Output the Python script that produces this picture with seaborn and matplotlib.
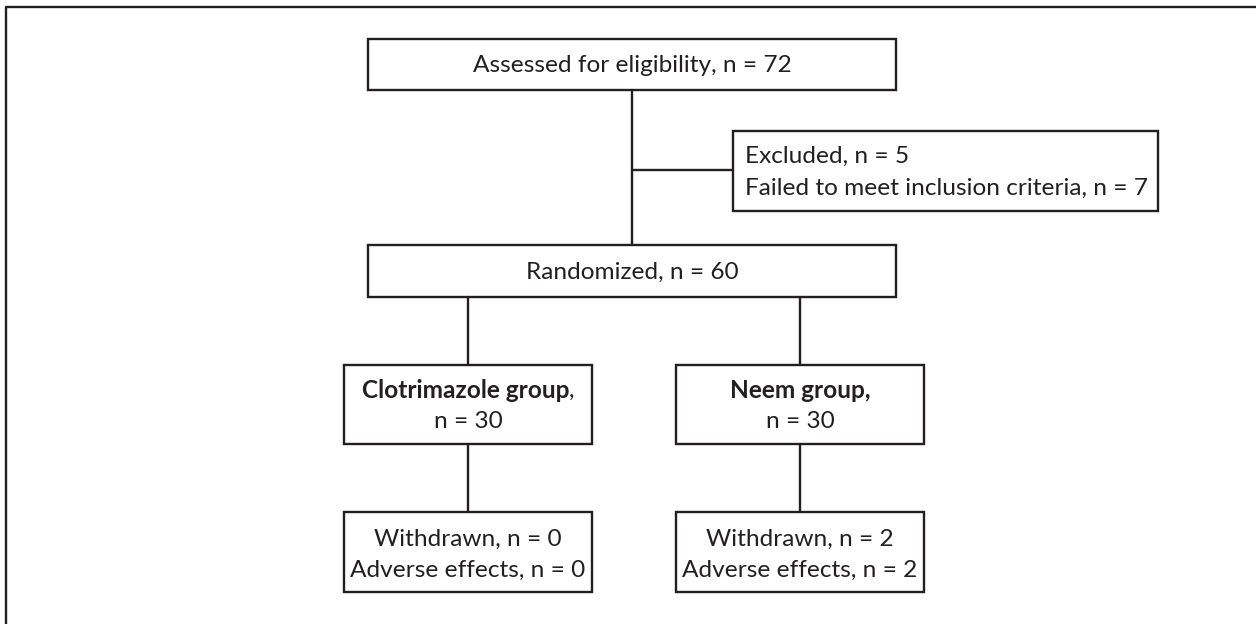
import matplotlib
matplotlib.use("Agg")
import matplotlib.pyplot as plt
import seaborn as sns
from matplotlib.patches import Rectangle

# Тексты блоков схемы
assessed_text = ["Assessed for eligibility, n = 72"]
excluded_text = ["Excluded, n = 5", "Failed to meet inclusion criteria, n = 7"]
randomized_text = ["Randomized, n = 60"]
group_names = ["Clotrimazole group", "Neem group,"]
group_name_tail = [",", ""]
group_n = ["n = 30", "n = 30"]
withdrawn_n = [0, 2]
adverse_n = [0, 2]

INK = "#231f20"
W, H = 1256, 624

sns.set_theme(style="white")
plt.rcParams["font.family"] = ["Lato", "DejaVu Sans"]

fig = plt.figure(figsize=(W / 100, H / 100), dpi=100)
ax = fig.add_axes([0, 0, 1, 1])
ax.set_xlim(0, W)
ax.set_ylim(H, 0)
ax.axis("off")

FS = 17.6
LW = 1.7


def box(x0, y0, x1, y1):
    ax.add_patch(Rectangle((x0, y0), x1 - x0, y1 - y0, fill=False,
                           edgecolor=INK, linewidth=LW, zorder=2))


def line(xs, ys):
    sns.lineplot(x=xs, y=ys, ax=ax, color=INK, linewidth=LW,
                 sort=False, estimator=None, zorder=1)


# Рамка (только верх и левая сторона)
line([6, 6, W], [H, 7, 7])

# Assessed
box(368, 39, 896, 90)
ax.text(632, 65, assessed_text[0], ha="center", va="center", fontsize=FS, color=INK)

# Вертикаль к Randomized и ветка к Excluded
line([632, 632], [90, 245])
line([632, 733], [170, 170])

box(733, 131, 1158, 211)
ax.text(745, 156, excluded_text[0], ha="left", va="center", fontsize=FS, color=INK)
ax.text(745, 188, excluded_text[1], ha="left", va="center", fontsize=FS, color=INK)

# Randomized
box(368, 245, 896, 297)
ax.text(632, 272, randomized_text[0], ha="center", va="center", fontsize=FS, color=INK)

fig.canvas.draw()
renderer = fig.canvas.get_renderer()

group_x = [(344, 592), (676, 924)]
for i, (gx0, gx1) in enumerate(group_x):
    cx = (gx0 + gx1) / 2
    line([cx, cx], [297, 365])
    box(gx0, 365, gx1, 444)
    line([cx, cx], [444, 512])
    box(gx0, 512, gx1, 592)

    # Жирное название + обычная запятая
    t1 = ax.text(0, 391, group_names[i], ha="left", va="center",
                 fontsize=FS, fontweight="bold", color=INK)
    t2 = ax.text(0, 391, group_name_tail[i], ha="left", va="center",
                 fontsize=FS, color=INK)
    w1 = t1.get_window_extent(renderer).width
    w2 = t2.get_window_extent(renderer).width if group_name_tail[i] else 0
    start = cx - (w1 + w2) / 2
    t1.set_x(start)
    t2.set_x(start + w1)

    ax.text(cx, 421, group_n[i], ha="center", va="center", fontsize=FS, color=INK)
    ax.text(cx, 539, f"Withdrawn, n = {withdrawn_n[i]}", ha="center", va="center",
            fontsize=FS, color=INK)
    ax.text(cx, 570, f"Adverse effects, n = {adverse_n[i]}", ha="center", va="center",
            fontsize=FS, color=INK)

plt.savefig("out.png", dpi=100)
